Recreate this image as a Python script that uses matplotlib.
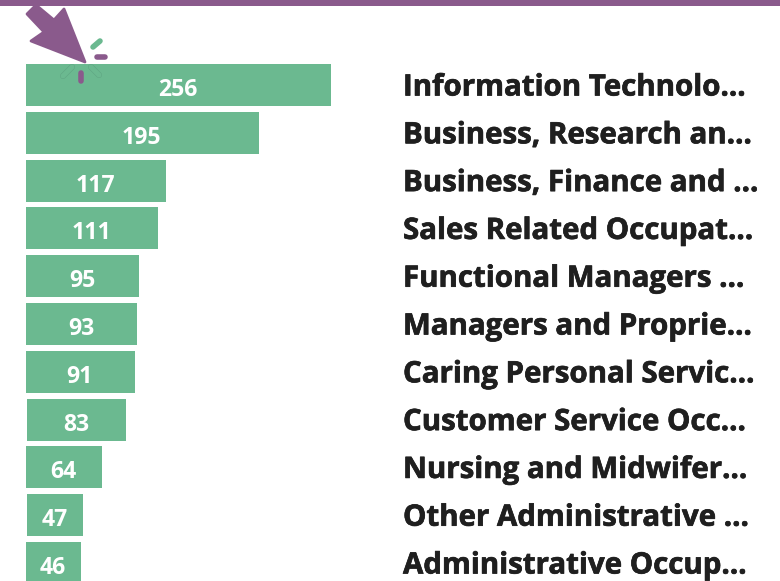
import matplotlib
matplotlib.use("Agg")
import matplotlib.pyplot as plt
import matplotlib.patheffects as pe
from matplotlib.patches import Polygon, Rectangle
from matplotlib.lines import Line2D

categories = [
    "Information Technolo...", "Business, Research an...", "Business, Finance and ...",
    "Sales Related Occupat...", "Functional Managers ...", "Managers and Proprie...",
    "Caring Personal Servic...", "Customer Service Occ...", "Nursing and Midwifer...",
    "Other Administrative ...", "Administrative Occup...",
]
values = [256, 195, 117, 111, 95, 93, 91, 83, 64, 47, 46]

GREEN = "#6BB990"
PURPLE = "#8A5A8C"
W, H = 780, 581
plt.rcParams["font.family"] = ["Open Sans", "DejaVu Sans"]

fig = plt.figure(figsize=(W / 100, H / 100), dpi=100, facecolor="white")

px_per_unit = 1.193
step = 47.8
first_center = 85
ax_left, ax_right = 26, 780
ax = fig.add_axes([ax_left / W, 0, (ax_right - ax_left) / W, 1])
ax.set_xlim(0, (ax_right - ax_left) / px_per_unit)
ax.set_ylim((H - first_center) / step, -first_center / step)
ax.axis("off")

ypos = list(range(len(values)))
shifted = {7, 9}  # these bars sit one pixel further right in the reference
lefts = [(1 / px_per_unit if i in shifted else 0) for i in ypos]
ax.barh(ypos, values, left=lefts, height=0.88, color=GREEN, linewidth=0)
heavy = [pe.withStroke(linewidth=0.5, foreground="#1f1f1f")]
for y, v, cat, l in zip(ypos, values, categories, lefts):
    ax.annotate(str(v), (l + v / 2, y), xytext=(-0.5, -5), textcoords="offset pixels",
                ha="center", va="center", color="white", fontsize=16.6, fontweight="bold")
    ax.annotate(cat, (0, y), xytext=(377, -3), textcoords="offset pixels",
                ha="left", va="center", color="#1f1f1f", fontsize=21.2, fontweight="bold",
                path_effects=heavy)

def fx(x): return x / W
def fy(y): return 1 - y / H

fig.add_artist(Rectangle((0, fy(5.5)), 1, 5.5 / H, transform=fig.transFigure,
                         facecolor=PURPLE, edgecolor="none"))
arrow = [(36, 5), (27, 14), (44, 32), (31, 41), (85, 62), (64, 9), (54, 20)]
fig.add_artist(Polygon([(fx(x), fy(y)) for x, y in arrow], closed=True,
                       transform=fig.transFigure, facecolor=PURPLE,
                       edgecolor=PURPLE, linewidth=2, joinstyle="round"))

def tick(x0, y0, x1, y1, color, lw=4.0):
    fig.add_artist(Line2D([fx(x0), fx(x1)], [fy(y0), fy(y1)], transform=fig.transFigure,
                          color=color, linewidth=lw, solid_capstyle="round"))

tick(81, 73, 81, 81, PURPLE)
tick(97, 57, 105, 57, PURPLE)
tick(93, 47, 100, 41, GREEN)
for seg in [(63, 76, 72, 67), (91, 67, 99, 75)]:
    tick(*seg, "#5FA583", lw=4.3)
    tick(*seg, GREEN, lw=3.6)

fig.savefig("out.png", dpi=100, facecolor="white")
